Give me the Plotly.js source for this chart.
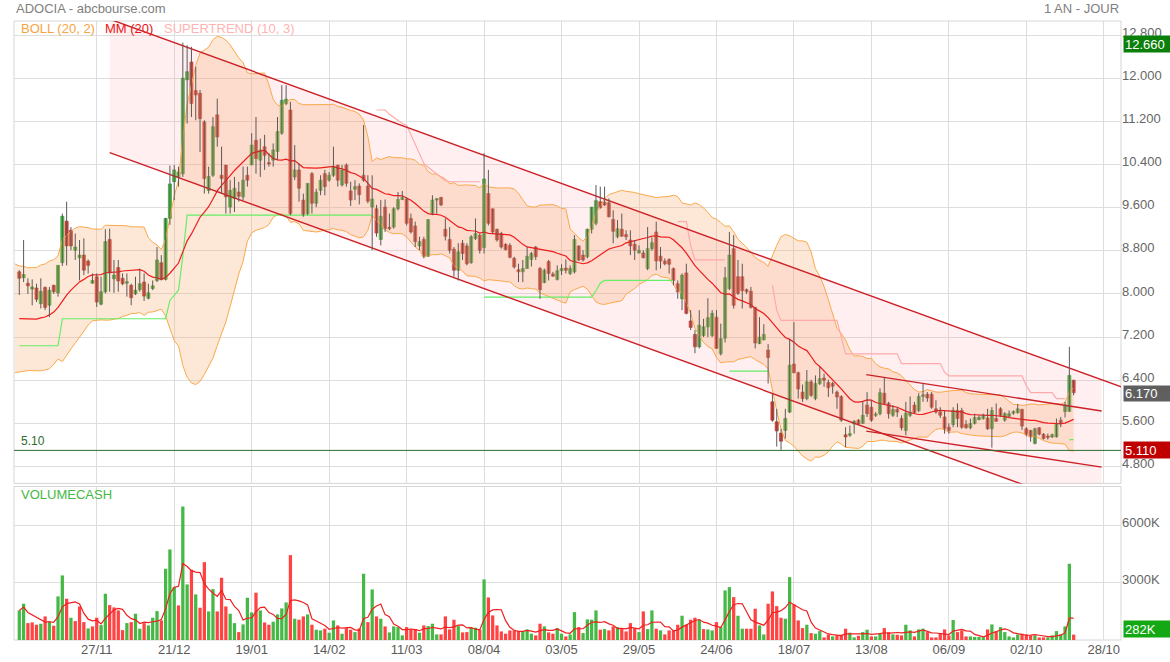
<!DOCTYPE html>
<html><head><meta charset="utf-8">
<script src="https://cdn.plot.ly/plotly-3.0.1.min.js"></script>
<style>html,body{margin:0;padding:0;background:#fff}#chart{width:1170px;height:662px}</style>
</head><body><div id="chart"></div>
<script>
// ---------- DATA ----------
const openP = [
8.41,8.30,8.20,8.09,8.11,7.82,8.12,7.79,8.16,8.02,
8.58,9.35,9.18,8.81,8.67,8.72,8.61,8.20,8.32,7.81,
8.04,9.01,8.28,8.49,8.29,8.20,8.16,8.00,8.08,8.22,
7.92,8.10,8.25,8.58,8.27,9.40,10.08,10.17,10.23,11.97,
12.30,11.77,11.72,11.19,9.92,10.20,11.32,10.20,10.39,9.61,
9.77,9.89,9.80,10.20,10.39,10.85,10.48,10.73,10.43,10.48,
10.64,10.98,11.53,11.41,10.17,10.30,9.74,9.49,10.23,9.68,
9.92,10.23,10.11,10.20,10.39,10.02,10.39,9.91,9.94,10.00,
10.20,10.00,9.61,9.58,9.01,9.61,9.22,9.24,9.58,9.75,
9.76,9.40,9.26,8.89,9.01,8.70,9.49,9.74,9.79,9.20,
9.01,8.83,8.44,8.94,8.89,8.58,9.03,9.09,8.86,9.86,
9.58,9.20,9.12,8.92,8.90,8.66,8.45,8.41,8.47,8.64,
8.87,8.47,8.21,8.60,8.37,8.27,8.43,8.48,8.38,8.41,
8.89,8.72,8.69,9.20,9.31,9.71,9.70,9.69,9.38,9.06,
9.20,9.10,9.00,8.92,8.76,8.76,8.47,8.84,9.15,8.70,
8.61,8.64,8.47,8.19,7.91,8.39,7.50,7.25,7.02,7.23,
7.39,7.23,7.57,6.89,7.18,8.10,8.84,8.32,8.32,8.08,
8.05,7.75,7.08,7.15,6.96,6.00,5.63,5.42,5.47,5.81,
6.70,6.54,6.18,6.06,6.37,6.06,6.34,6.44,6.36,6.34,
6.18,6.10,5.39,5.38,5.59,5.66,5.60,5.94,5.90,5.75,
5.78,6.16,5.97,5.75,5.86,5.69,5.47,5.75,5.94,5.84,
6.10,6.14,6.14,5.87,5.81,5.72,5.53,5.58,5.84,5.84,
5.58,5.52,5.60,5.67,5.69,5.70,5.50,5.69,5.87,5.66,
5.73,5.79,5.80,5.86,5.50,5.47,5.23,5.52,5.40,5.36,
5.35,5.35,5.66,5.82,5.82,6.40];
const highP = [
8.44,9.00,8.29,8.27,8.19,8.29,8.14,8.13,8.17,8.53,
9.49,9.71,9.24,9.12,9.00,9.03,8.64,8.38,8.38,8.32,
9.20,9.21,8.63,8.63,8.38,8.38,8.19,8.32,8.47,8.38,
8.19,8.25,8.87,8.72,9.41,10.38,10.39,10.36,12.66,12.61,
12.58,12.21,11.78,11.22,10.36,11.28,11.62,10.73,10.39,10.11,
10.17,10.08,10.36,10.36,10.98,11.28,10.88,10.95,10.61,10.79,
11.28,11.87,11.87,11.56,10.76,10.42,9.86,10.05,10.26,9.95,
10.20,10.30,10.26,10.73,10.39,10.39,10.42,10.08,10.11,10.05,
11.13,10.20,10.20,9.65,9.74,9.75,9.49,9.61,9.89,9.91,
9.79,9.49,9.34,9.06,9.06,9.38,9.83,9.77,9.80,9.40,
9.24,8.87,8.94,9.00,8.94,9.09,9.40,9.12,10.61,10.30,
9.58,9.21,9.15,8.94,8.94,8.69,8.56,8.63,8.87,8.78,
8.89,8.50,8.47,8.63,8.41,8.53,8.55,8.64,8.53,9.09,
8.90,8.81,9.21,9.61,10.02,9.99,9.99,9.77,9.55,9.37,
9.49,9.18,9.18,9.00,8.90,8.81,9.24,9.05,9.34,8.87,
8.66,8.66,8.49,8.25,8.38,8.56,7.70,7.33,7.70,7.54,
7.92,7.70,7.70,7.45,8.50,9.15,9.09,8.63,8.56,8.10,
8.13,7.76,7.57,7.44,7.07,6.15,5.87,5.50,5.87,7.17,
7.48,6.56,6.32,6.59,6.41,6.49,6.65,6.52,6.41,6.37,
6.21,6.12,5.53,5.56,5.66,5.68,6.00,6.18,6.03,5.81,
6.25,6.46,6.00,5.94,5.90,5.75,6.00,6.10,6.00,6.16,
6.34,6.18,6.18,6.03,5.90,5.84,5.60,5.90,5.97,5.89,
5.66,5.69,5.78,5.75,5.78,5.87,5.90,5.97,5.90,5.81,
5.84,5.84,5.96,5.87,5.53,5.48,5.52,5.53,5.42,5.41,
5.41,5.69,5.72,6.00,7.02,6.41];
const lowP = [
7.98,8.22,8.00,7.79,7.85,7.73,7.70,7.57,8.00,7.95,
8.52,8.53,8.81,8.63,8.25,8.35,8.38,8.19,7.76,7.79,
8.01,8.04,8.02,8.04,8.16,7.95,7.79,7.98,8.04,7.87,
7.90,8.07,8.22,8.25,8.25,9.28,9.74,9.99,10.17,11.16,
11.28,11.22,10.63,9.86,9.86,10.17,10.73,9.86,9.49,9.49,
9.52,9.71,9.74,9.99,10.39,10.23,10.17,10.30,10.36,10.36,
10.48,10.95,11.50,9.46,10.11,9.71,9.43,9.46,9.49,9.61,
9.83,9.83,10.08,10.17,9.99,9.99,9.99,9.63,9.74,9.66,
10.08,9.68,8.81,9.06,8.90,9.15,9.18,9.21,9.55,9.74,
9.27,9.12,8.87,8.81,8.66,8.69,9.46,9.49,9.63,8.99,
8.75,8.32,8.25,8.63,8.53,8.56,9.00,8.75,8.75,9.27,
9.12,8.97,8.84,8.81,8.66,8.47,8.22,8.22,8.47,8.51,
8.63,7.91,8.20,8.25,8.32,8.25,8.35,8.38,8.35,8.38,
8.61,8.60,8.66,9.12,9.27,9.58,9.63,9.42,8.94,9.03,
9.06,9.00,8.72,8.63,8.75,8.66,8.44,8.80,8.44,8.47,
8.53,8.38,8.16,7.91,7.70,7.62,7.33,6.90,6.99,7.20,
7.20,7.20,6.99,6.86,7.10,8.07,7.73,7.98,7.73,8.00,
7.73,6.99,7.07,7.14,6.34,5.63,5.17,5.11,5.32,5.79,
6.53,6.06,6.00,6.03,6.09,6.03,6.31,6.28,6.09,6.15,
5.87,5.63,5.16,5.35,5.41,5.58,5.59,5.72,5.63,5.72,
5.75,5.94,5.69,5.72,5.72,5.47,5.38,5.72,5.78,5.81,
6.00,6.00,5.87,5.78,5.70,5.41,5.41,5.53,5.53,5.50,
5.50,5.49,5.58,5.66,5.67,5.48,5.15,5.63,5.72,5.63,
5.72,5.76,5.78,5.48,5.36,5.26,5.21,5.38,5.30,5.30,
5.33,5.34,5.53,5.71,5.82,6.12];
const closeP = [
8.29,8.36,8.15,8.13,7.90,8.05,7.75,8.07,8.04,8.53,
9.44,8.89,8.89,8.87,8.72,8.44,8.53,8.25,7.85,8.04,
8.97,8.39,8.35,8.24,8.19,8.21,7.93,8.07,8.19,7.96,
8.02,8.15,8.63,8.27,9.40,10.04,10.30,10.26,12.00,12.12,
11.53,11.69,11.25,10.14,10.18,11.10,10.91,10.14,9.80,9.92,
9.96,9.81,10.11,10.11,10.76,10.51,10.67,10.57,10.41,10.67,
11.01,11.59,11.61,9.49,10.30,9.96,9.46,10.05,9.68,9.89,
10.11,9.99,10.20,10.36,10.11,10.30,10.05,9.74,9.99,9.84,
10.11,9.72,9.76,9.13,9.44,9.21,9.21,9.58,9.75,9.79,
9.31,9.15,8.97,8.97,8.70,9.38,9.74,9.77,9.65,9.07,
8.81,8.44,8.78,8.75,8.56,9.06,9.12,8.81,10.13,9.31,
9.15,9.00,8.87,8.82,8.68,8.50,8.41,8.47,8.70,8.75,
8.69,8.08,8.44,8.38,8.33,8.43,8.47,8.44,8.47,9.01,
8.63,8.63,9.20,9.61,9.73,9.60,9.65,9.43,9.16,9.21,
9.07,9.06,8.89,8.81,8.81,8.67,8.84,8.95,8.61,8.61,
8.56,8.55,8.25,8.04,8.35,7.64,7.38,7.02,7.42,7.39,
7.56,7.64,6.99,7.17,8.30,8.72,7.79,8.01,8.06,8.04,
7.75,7.09,7.20,7.25,6.82,5.66,5.46,5.27,5.69,6.68,
6.54,6.24,6.06,6.37,6.12,6.34,6.43,6.40,6.26,6.29,
6.09,5.66,5.35,5.41,5.64,5.59,5.75,5.78,5.66,5.76,
6.17,5.97,5.78,5.86,5.81,5.52,5.79,5.81,5.80,6.10,
6.13,6.07,5.90,5.81,5.75,5.50,5.47,5.84,5.69,5.53,
5.52,5.60,5.71,5.71,5.75,5.50,5.84,5.64,5.75,5.78,
5.78,5.82,5.87,5.55,5.40,5.35,5.50,5.40,5.32,5.34,
5.39,5.59,5.59,5.94,6.49,6.17];
// volume in thousands (K)
const volumeK = [
1550,1900,885,920,800,853,1236,974,750,2283,
3382,2162,1167,990,1759,937,607,712,1167,780,
2424,1827,1707,1550,518,885,937,1377,592,885,
764,1167,1513,1026,3733,4744,2770,1812,6995,2911,
3681,2388,1691,4079,1497,2665,1497,3262,1759,1377,
885,414,817,2215,1445,2477,1550,920,800,958,
1340,1655,1969,4446,1115,1063,1236,1340,800,539,
503,592,382,1026,764,330,623,539,414,600,
3471,937,2649,1236,1115,712,398,712,676,241,
676,571,571,382,764,728,853,293,293,1236,
555,1063,728,398,414,644,644,539,3173,2230,
1288,764,450,330,503,503,466,466,555,330,
241,853,712,398,330,623,330,188,293,1461,
676,361,1079,1063,1550,539,571,503,712,676,
571,450,885,623,414,1497,571,1550,592,503,
293,503,503,800,1271,800,1063,1167,1063,571,
555,503,937,676,2597,2770,2246,1271,592,592,
592,1639,764,293,1900,2545,1775,1167,1115,3293,
1864,1026,623,800,361,330,466,136,293,188,
241,276,592,382,136,223,414,539,188,188,
361,623,414,293,276,241,800,503,188,555,
592,414,136,136,361,555,241,1050,414,503,
188,188,160,160,150,555,817,466,676,414,
188,136,293,330,293,241,241,136,136,136,
241,466,293,712,3995,282];
// Supertrend (10, 3) level read for each session
const supertrendValue = [
7.04,7.04,7.04,7.04,7.04,7.04,7.04,7.04,7.04,7.04,
7.54,7.54,7.54,7.54,7.54,7.54,7.54,7.54,7.54,7.54,
7.54,7.54,7.54,7.54,7.54,7.54,7.54,7.54,7.54,7.54,
7.54,7.54,7.54,7.54,7.54,7.88,7.98,8.07,8.70,9.46,
9.46,9.46,9.46,9.46,9.46,9.46,9.46,9.46,9.46,9.46,
9.46,9.46,9.46,9.46,9.46,9.46,9.46,9.46,9.46,9.46,
9.46,9.46,9.46,9.46,9.46,9.46,9.46,9.46,9.46,9.46,
9.46,9.46,9.46,9.46,9.46,9.46,9.46,9.46,9.46,9.46,
9.46,9.46,9.46,11.41,11.41,11.41,11.33,11.27,11.21,11.16,
11.13,10.95,10.78,10.60,10.42,10.35,10.29,10.22,10.16,10.10,
10.08,10.08,10.08,10.08,10.08,10.08,10.08,10.08,7.94,7.94,
7.94,7.94,7.94,7.94,7.94,7.94,7.94,7.94,7.94,7.94,
7.94,7.94,7.94,7.94,7.94,7.94,7.94,7.94,7.94,7.94,
7.94,7.94,7.94,7.94,8.06,8.20,8.25,8.25,8.25,8.25,
8.25,8.25,8.25,8.25,8.25,8.25,8.25,8.25,8.25,8.25,
8.25,8.25,8.25,9.34,9.34,9.34,8.90,8.63,8.63,8.63,
8.63,8.63,8.63,8.63,8.63,6.57,6.57,6.57,6.57,6.57,
6.57,6.57,6.57,6.57,6.57,8.16,7.70,7.51,7.51,7.51,
7.51,7.51,7.51,7.51,7.51,7.51,7.51,7.51,7.51,7.51,
7.51,7.20,6.89,6.89,6.89,6.89,6.89,6.89,6.89,6.89,
6.89,6.89,6.89,6.89,6.89,6.71,6.71,6.71,6.71,6.71,
6.71,6.71,6.71,6.71,6.71,6.55,6.48,6.48,6.48,6.48,
6.48,6.48,6.48,6.48,6.48,6.48,6.48,6.48,6.48,6.48,
6.48,6.48,6.48,6.48,6.30,6.17,6.17,6.17,6.17,6.17,
6.17,6.06,6.06,6.06,5.30,5.30];
// sessions where the supertrend changes side (1 = bullish, -1 = bearish)
const trendStart = [0, 83, 108, 153, 165, 175, 244];
const trendSide  = [1, -1, 1, -1, 1, -1, 1];
// closes of the 20 sessions before the window (needed by the 20-day indicators)
const closeHistory = [8.45,8.40,8.30,8.10,7.90,7.60,7.40,7.30,7.00,6.80,
                      6.90,6.85,7.05,7.20,7.35,7.50,7.45,7.65,7.80,7.98];
const tickIndex = [18,36,54,72,90,108,126,144,162,180,198,216,234,252];
const tickLabels = ['27/11','21/12','19/01','14/02','11/03','08/04','03/05','29/05','24/06','18/07','13/08','06/09','02/10','28/10'];
const priceTicks = [4.8,5.6,6.4,7.2,8.0,8.8,9.6,10.4,11.2,12.0,12.8];
const volTicks = [3000,6000];
const volTickLabels = ['3000K','6000K'];
// drawn trend channel (bar index, price)
const channelX = [21, 258];
const channelUpper = [13.094, 6.22];
const channelLower = [10.62, 3.75];
const channelFillEnd = 251.5;
const smallChannelX = [196.8, 251.5];
const smallChannelUpper = [6.505, 5.83];
const smallChannelLower = [5.459, 4.79];
const supportLevel = 5.10;

// ---------- INDICATORS ----------
const N = closeP.length;
const idx = Array.from({length: N}, (_, i) => i);
const allClose = closeHistory.concat(closeP);
const H0 = closeHistory.length;
const bbX = [], bbU = [], bbL = [], maX = [], maY = [];
for (let j = 19; j < allClose.length; j++) {
  const i = j - H0;
  let s = 0; for (let k = j - 19; k <= j; k++) s += allClose[k];
  const m = s / 20;
  let v = 0; for (let k = j - 19; k <= j; k++) v += (allClose[k] - m) ** 2;
  const sd = Math.sqrt(v / 20);
  bbX.push(i); bbU.push(m + 2 * sd); bbL.push(m - 2 * sd);
  if (i >= 0) { maX.push(i); maY.push(m); }
}
// supertrend split by side
const stUp = [], stDn = [];
for (let i = 0; i < N; i++) {
  let side = 1;
  for (let k = 0; k < trendStart.length; k++) if (i >= trendStart[k]) side = trendSide[k];
  stUp.push(side === 1 ? supertrendValue[i] : null);
  stDn.push(side === -1 ? supertrendValue[i] : null);
}
// volume moving average (5)
const volMA = volumeK.map((v, i) => {
  const a = volumeK.slice(Math.max(0, i - 4), i + 1);
  return a.reduce((p, q) => p + q, 0) / a.length;
});
const volColor = closeP.map((c, i) => {
  const pc = i > 0 ? closeP[i - 1] : closeHistory[H0 - 1];
  return c >= pc ? '#45b845' : '#ff4343';
});
// candles
const bodyBase = [], bodyLen = [], bodyCol = [], bodyLine = [];
const wickX = [], wickY = [];
for (let i = 0; i < N; i++) {
  const up = closeP[i] >= openP[i];
  bodyBase.push(Math.min(openP[i], closeP[i]));
  bodyLen.push(Math.max(Math.abs(closeP[i] - openP[i]), 0.025));
  bodyCol.push(up ? '#3fc23a' : '#e8342a');
  bodyLine.push(up ? '#2a8e26' : '#b3261d');
  wickX.push(i, i, null);
  wickY.push(Math.min(lowP[i], openP[i], closeP[i]), Math.max(highP[i], openP[i], closeP[i]), null);
}
const lineAt = (xs, ys, x) => ys[0] + (ys[1] - ys[0]) * (x - xs[0]) / (xs[1] - xs[0]);

const maxHigh = Math.max(...highP);
const minLow = Math.min(...lowP);
const lastClose = closeP[N - 1];
const lastVol = volumeK[N - 1];

// ---------- TRACES ----------
const traces = [
  { x: [channelX[0], channelFillEnd, channelFillEnd, channelX[0]],
    y: [channelUpper[0], lineAt(channelX, channelUpper, channelFillEnd), lineAt(channelX, channelLower, channelFillEnd), channelLower[0]],
    type: 'scatter', mode: 'lines', fill: 'toself', fillcolor: 'rgba(255,160,170,0.17)', line: {width: 0}, hoverinfo: 'skip' },
  { x: bbX, y: bbU, type: 'scatter', mode: 'lines', line: {color: '#f9a94a', width: 1}, hoverinfo: 'skip' },
  { x: bbX, y: bbL, type: 'scatter', mode: 'lines', fill: 'tonexty', fillcolor: 'rgba(249,170,110,0.28)', line: {color: '#f9a94a', width: 1}, hoverinfo: 'skip' },
  { x: idx, y: stUp, type: 'scatter', mode: 'lines', line: {color: '#66ee66', width: 1.2}, connectgaps: false },
  { x: idx, y: stDn, type: 'scatter', mode: 'lines', line: {color: '#ffaaaa', width: 1.2}, connectgaps: false },
  { x: maX, y: maY, type: 'scatter', mode: 'lines', line: {color: '#ee1c1c', width: 1.2} },
  { x: channelX, y: channelUpper, type: 'scatter', mode: 'lines', line: {color: '#cc2026', width: 1.4} },
  { x: channelX, y: channelLower, type: 'scatter', mode: 'lines', line: {color: '#cc2026', width: 1.4} },
  { x: smallChannelX, y: smallChannelUpper, type: 'scatter', mode: 'lines', line: {color: '#cc2026', width: 1.3} },
  { x: smallChannelX, y: smallChannelLower, type: 'scatter', mode: 'lines', line: {color: '#cc2026', width: 1.3} },
  { x: wickX, y: wickY, type: 'scatter', mode: 'lines', line: {color: '#5a5a5a', width: 1}, hoverinfo: 'skip' },
  { x: idx, y: bodyLen, base: bodyBase, type: 'bar', width: 0.72,
    marker: {color: bodyCol, line: {color: bodyLine, width: 0.6}} },
  { x: idx, y: volumeK, type: 'bar', yaxis: 'y2', width: 0.76, marker: {color: volColor, line: {width: 0}} },
  { x: idx, y: volMA, type: 'scatter', mode: 'lines', yaxis: 'y2', line: {color: '#ee2020', width: 1.2} }
];

// ---------- LAYOUT ----------
const FONT = '"Liberation Sans", Arial, Helvetica, sans-serif';
const plotH = 662 - 21 - 22;
const pyTop = (py) => 1 - (py - 21) / plotH; // paper y from pixel y
const ann = [
  {text: 'ADOCIA - abcbourse.com', xref: 'paper', yref: 'paper', x: 0, y: pyTop(9), xanchor: 'left', yanchor: 'middle', showarrow: false, font: {size: 13, color: '#808080'}},
  {text: '1 AN - JOUR', xref: 'paper', yref: 'paper', x: 1, y: pyTop(9), xanchor: 'right', yanchor: 'middle', showarrow: false, font: {size: 13, color: '#808080'}},
  {text: 'BOLL (20, 2)', xref: 'paper', yref: 'paper', x: 5/1107, y: pyTop(29), xanchor: 'left', yanchor: 'middle', showarrow: false, font: {size: 13, color: '#f7a440'}},
  {text: 'MM (20)', xref: 'paper', yref: 'paper', x: 89/1107, y: pyTop(29), xanchor: 'left', yanchor: 'middle', showarrow: false, font: {size: 13, color: '#e81616'}},
  {text: 'SUPERTREND (10, 3)', xref: 'paper', yref: 'paper', x: 148/1107, y: pyTop(29), xanchor: 'left', yanchor: 'middle', showarrow: false, font: {size: 13, color: '#ffb3b3'}},
  {text: 'VOLUMECASH', xref: 'paper', yref: 'paper', x: 5/1107, y: pyTop(494), xanchor: 'left', yanchor: 'middle', showarrow: false, font: {size: 13, color: '#45b845'}},
  {text: supportLevel.toFixed(2), xref: 'paper', yref: 'y', x: 5/1107, y: supportLevel, xanchor: 'left', yanchor: 'bottom', yshift: 0, showarrow: false, font: {size: 12, color: '#2e6b2e'}},
  {text: maxHigh.toFixed(3), xref: 'paper', yref: 'y', x: 1, y: maxHigh, xanchor: 'left', yanchor: 'middle', xshift: 2, yshift: -1, showarrow: false, bgcolor: '#0a800a', width: 45, height: 14, borderpad: 1, align: 'left', font: {size: 13, color: '#ffffff'}},
  {text: lastClose.toFixed(3), xref: 'paper', yref: 'y', x: 1, y: lastClose, xanchor: 'left', yanchor: 'middle', xshift: 2, yshift: -1, showarrow: false, bgcolor: '#5f5f5f', width: 45, height: 13, borderpad: 1, align: 'left', font: {size: 13, color: '#ffffff'}},
  {text: minLow.toFixed(3), xref: 'paper', yref: 'y', x: 1, y: minLow, xanchor: 'left', yanchor: 'middle', xshift: 2, showarrow: false, bgcolor: '#c00000', width: 45, height: 14, borderpad: 1, align: 'left', font: {size: 13, color: '#ffffff'}},
  {text: lastVol + 'K', xref: 'paper', yref: 'y2', x: 1, y: 0, xanchor: 'left', yanchor: 'bottom', xshift: 2, yshift: 2, showarrow: false, bgcolor: '#14a814', width: 45, height: 14, borderpad: 1, align: 'left', font: {size: 13, color: '#ffffff'}}
];
const layout = {
  width: 1170, height: 662,
  margin: {l: 14, r: 49, t: 21, b: 22, pad: 0},
  paper_bgcolor: '#ffffff', plot_bgcolor: '#ffffff',
  showlegend: false, barmode: 'overlay', hovermode: false,
  font: {family: FONT, size: 13, color: '#666666'},
  xaxis: {range: [-1.23, 256], tickmode: 'array', tickvals: tickIndex, ticktext: tickLabels,
          showgrid: true, gridcolor: '#dedede', gridwidth: 1, zeroline: false, anchor: 'y2',
          ticks: '', showline: false, tickfont: {size: 13, color: '#5a5a5a'}, fixedrange: true},
  yaxis: {domain: [0.253, 1], range: [4.488, 13.06], side: 'right', tickmode: 'array', tickvals: priceTicks,
          tickformat: '.3f', showgrid: true, gridcolor: '#dedede', zeroline: false, ticks: '',
          tickfont: {size: 13, color: '#666666'}, ticklabelshift: -3, fixedrange: true},
  yaxis2: {domain: [0, 0.248], range: [0, 8042], side: 'right', tickmode: 'array', tickvals: volTicks,
           ticktext: volTickLabels, showgrid: true, gridcolor: '#dedede', zeroline: false, ticks: '',
           tickfont: {size: 13, color: '#666666'}, ticklabelshift: -3, fixedrange: true},
  shapes: [
    {type: 'rect', xref: 'paper', yref: 'paper', x0: 0, x1: 1, y0: 0.253, y1: 1, line: {color: '#d6d6d6', width: 1}, layer: 'below'},
    {type: 'rect', xref: 'paper', yref: 'paper', x0: 0, x1: 1, y0: 0, y1: 0.248, line: {color: '#d6d6d6', width: 1}, layer: 'below'},
    {type: 'line', xref: 'paper', yref: 'y', x0: 0, x1: 1, y0: supportLevel, y1: supportLevel, line: {color: '#2e6b2e', width: 1}}
  ],
  annotations: ann
};
Plotly.newPlot('chart', traces, layout, {displayModeBar: false, staticPlot: true});
</script>
</body></html>
